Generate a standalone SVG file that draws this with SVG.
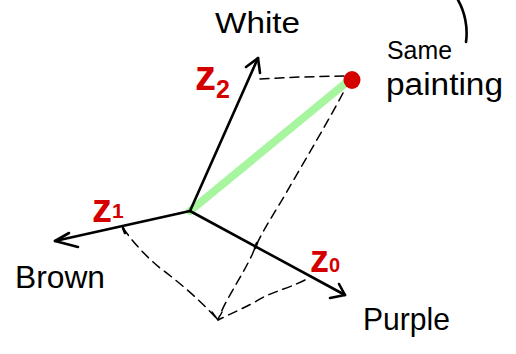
<svg xmlns="http://www.w3.org/2000/svg" width="516" height="354" viewBox="0 0 516 354">
<style>
.ax{fill:none;stroke:#000;stroke-width:2.6;stroke-linecap:round;stroke-linejoin:round}
.dash{fill:none;stroke:#000;stroke-width:1.5;stroke-dasharray:9 6;stroke-linecap:round}
.lbl{font-family:"Liberation Sans",Arial,sans-serif;fill:#000}
.red{font-family:"Liberation Sans",Arial,sans-serif;fill:#d40000;font-weight:bold}
</style>
<rect width="516" height="354" fill="#fff"/>
<g id="connectors">
  <path class="dash" d="M260 79 L300 77 L345 76"/>
  <path class="dash" d="M343 93 C330 118 305 160 285 195 C270 220 260 235 252 255 C240 280 225 300 218 320"/>
  <path class="dash" d="M123 228 C135 245 148 258 160 268 C180 283 200 300 218 320"/>
  <path class="dash" d="M305 280 C285 290 270 292 255 302 C240 310 228 315 218 320"/>
  <path class="dash" d="M212 312 L218 320 L222 312"/>
  <line x1="190" y1="211" x2="347" y2="82" stroke="#a8f5a0" stroke-width="8" stroke-linecap="round"/>
  <path class="ax" d="M190 211 L258 58"/>
  <path class="ax" d="M246 67 L258 58 L260 73"/>
  <path class="ax" d="M190 211 L55 241"/>
  <path class="ax" d="M69 233 L55 241 L78 247"/>
  <path class="ax" d="M190 211 L345 295"/>
  <path class="ax" d="M339 284 L345 295 L330 298"/>
  <path class="ax" d="M123 228 L125 233"/>
  <path class="ax" d="M257 243 L255 248"/>
  <path class="ax" d="M458 0 C465 12 468 28 466 42"/>
</g>
<g id="point"><ellipse cx="352" cy="80" rx="8.5" ry="9" fill="#d40000"/></g>
<g id="white"><text class="lbl" x="215" y="33" font-size="30" textLength="85" lengthAdjust="spacingAndGlyphs">White</text></g>
<g id="same-painting">
  <text class="lbl" x="387" y="59" font-size="25" textLength="65" lengthAdjust="spacingAndGlyphs">Same</text>
  <text class="lbl" x="386" y="95" font-size="31" textLength="117" lengthAdjust="spacingAndGlyphs">painting</text>
</g>
<g id="brown"><text class="lbl" x="15" y="288" font-size="32" textLength="90" lengthAdjust="spacingAndGlyphs">Brown</text></g>
<g id="purple"><text class="lbl" x="363" y="330" font-size="32" textLength="87" lengthAdjust="spacingAndGlyphs">Purple</text></g>
<g id="z2"><text class="red" x="195" y="90" font-size="42">z<tspan font-size="25" dy="8">2</tspan></text></g>
<g id="z1"><text class="red" x="92" y="222" font-size="40">z<tspan font-size="21" dy="-4">1</tspan></text></g>
<g id="z0"><text class="red" x="310" y="272" font-size="38">z<tspan font-size="20">0</tspan></text></g>
</svg>
